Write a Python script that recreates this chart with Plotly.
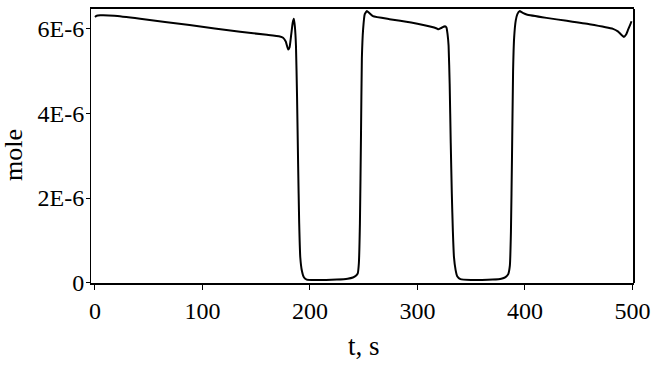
import plotly.graph_objects as go

# time (s)
t = [0, 1.5, 5, 18, 42, 88, 135, 160, 172, 175, 177.5, 179.8, 181, 182.5, 184, 185,
     186, 187, 188, 189, 190, 191, 192.5, 194.5, 197, 205, 215, 225, 235, 240, 243,
     244.5, 245.5, 246.5, 247.5, 248.3, 249.5, 251, 253, 255, 258.6, 274, 284, 300,
     318, 319.5, 322, 325.6, 327, 328, 329, 330, 331, 332, 333, 334, 335.5, 337, 340,
     350, 360, 370, 378, 382, 384.5, 386, 387, 388, 389, 390, 391.5, 393, 395, 398,
     401.6, 420, 439, 460, 482, 486.5, 489, 492, 494, 496, 498, 499.2]

# amount (mole, in units of 1E-6)
mole_e6 = [6.28, 6.31, 6.32, 6.31, 6.24, 6.09, 5.93, 5.86, 5.82, 5.79, 5.70, 5.51, 5.56, 5.85, 6.15, 6.24,
           6.05, 5.60, 4.40, 2.80, 1.40, 0.60, 0.28, 0.12, 0.07, 0.06, 0.06, 0.07, 0.09, 0.12, 0.17,
           0.22, 0.45, 1.40, 3.50, 5.30, 6.00, 6.35, 6.42, 6.38, 6.30, 6.23, 6.19, 6.12,
           6.01, 5.99, 6.02, 6.06, 6.03, 5.88, 5.60, 4.70, 3.30, 2.10, 1.20, 0.60, 0.30, 0.15, 0.08,
           0.06, 0.06, 0.07, 0.09, 0.13, 0.20, 0.40, 1.20, 3.00, 5.00, 5.80, 6.20, 6.35, 6.42, 6.38,
           6.34, 6.26, 6.19, 6.11, 6.00, 5.94, 5.88, 5.81, 5.86, 5.98, 6.10, 6.18]

x_ticks = [0, 100, 200, 300, 400, 500]
y_tick_vals = [0, 2e-6, 4e-6, 6e-6]
y_tick_text = ["0", "2E-6", "4E-6", "6E-6"]

mole = [v * 1e-6 for v in mole_e6]

FONT = "Liberation Serif, Times New Roman, serif"

fig = go.Figure()
fig.add_trace(go.Scatter(x=t, y=mole, mode="lines",
                         line=dict(color="black", width=2, shape="spline", smoothing=0.4),
                         showlegend=False, hoverinfo="skip"))

fig.update_layout(
    width=653, height=366,
    margin=dict(l=91, r=19, t=9, b=83, autoexpand=False),
    paper_bgcolor="white", plot_bgcolor="white",
    font=dict(family=FONT, size=24, color="black"),
    xaxis=dict(range=[-3.7, 501.5], tickvals=x_ticks, ticks="outside", ticklen=5,
               tickcolor="black", tickwidth=1, showline=True, linecolor="black",
               linewidth=2, mirror=True, showgrid=False, zeroline=False, automargin=False,
               tickfont=dict(family=FONT, size=24)),
    yaxis=dict(range=[-0.01e-6, 6.47e-6], tickvals=y_tick_vals, ticktext=y_tick_text,
               ticks="outside", ticklen=4, tickcolor="black", tickwidth=1,
               ticklabelstandoff=-3,
               showline=True, linecolor="black", linewidth=1, showgrid=False,
               zeroline=False, automargin=False, tickfont=dict(family=FONT, size=24)),
    shapes=[dict(type="line", xref="x domain", yref="y domain", x0=1, x1=1, y0=0, y1=1,
                 line=dict(color="black", width=2))],
    annotations=[
        dict(text="t, s", xref="paper", yref="paper", x=0.503, y=-0.23, yanchor="middle",
             xanchor="center", showarrow=False, font=dict(family=FONT, size=27)),
        dict(text="mole", xref="paper", yref="paper", x=-0.1436, y=0.467, xanchor="center",
             yanchor="middle", textangle=-90, showarrow=False, font=dict(family=FONT, size=26)),
    ],
)

fig.write_html("out.html")
